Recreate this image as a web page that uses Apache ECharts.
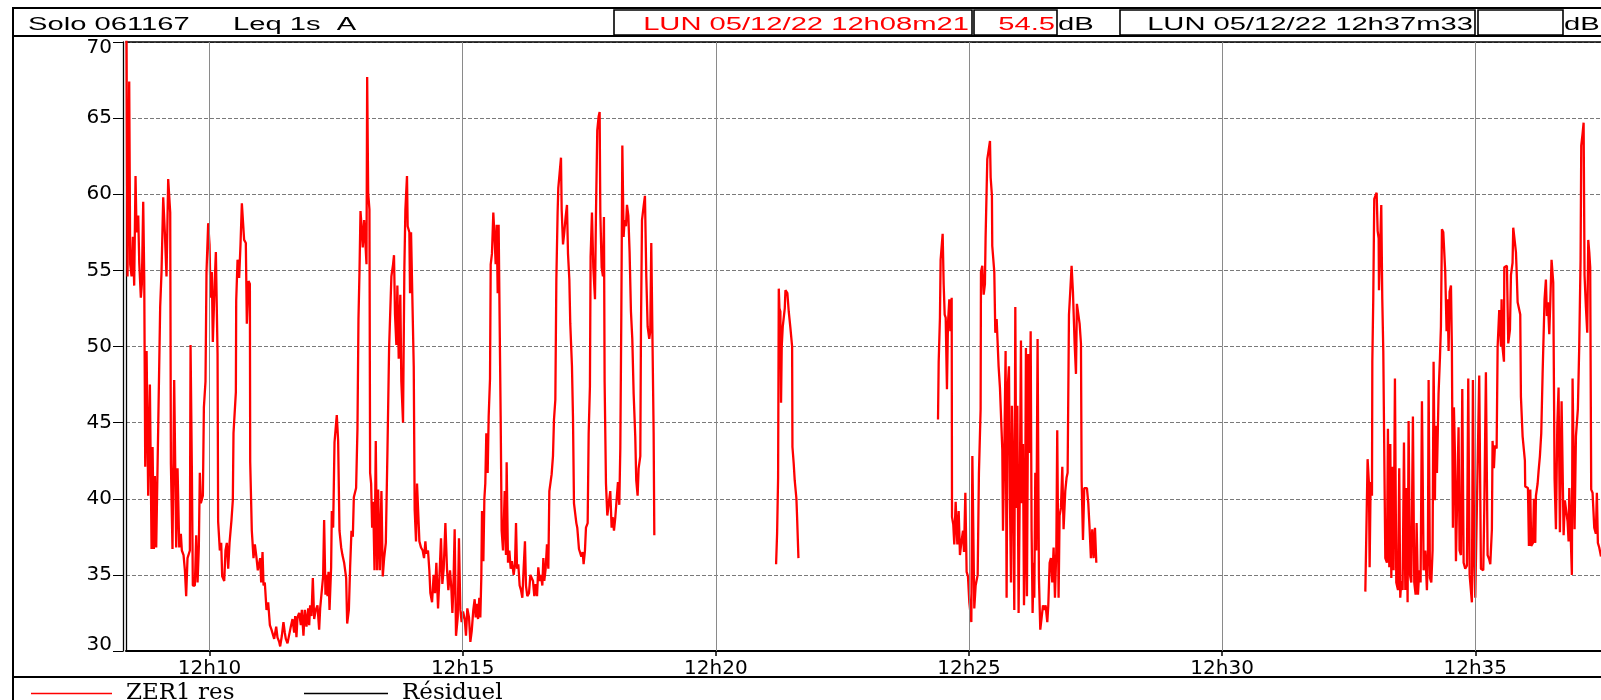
<!DOCTYPE html>
<html>
<head>
<meta charset="utf-8">
<script src="https://cdn.jsdelivr.net/npm/echarts@6.0.0/dist/echarts.min.js"></script>
<style>
html,body{margin:0;padding:0;background:#fff;}
#chart{width:1601px;height:700px;}
</style>
</head>
<body>
<div id="chart"></div>
<script>
// Time in seconds after 12:00:00, level in dB(A)
const run1 = [[501.5,71],[502.8,54.6],[504.8,67.4],[506.0,55.4],[507.6,54.6],[509.2,57.2],[510.7,54.0],[512.3,61.2],[513.5,57.5],[515.5,58.6],[516.7,55.5],[518.6,53.2],[519.8,54.1],[521.4,59.5],[522.6,54.6],[523.8,42.1],[525.4,49.7],[527.3,40.2],[529.3,47.5],[531.3,36.7],[532.5,43.4],[534.0,36.7],[535.2,41.5],[536.8,36.8],[539.2,44.8],[541.5,52.6],[543.1,54.9],[545.1,59.8],[547.1,57.4],[549.0,54.6],[551.0,61.0],[553.4,58.8],[554.2,42.3],[556.1,36.7],[558.1,47.8],[560.5,36.8],[562.1,42.0],[564.1,36.8],[566.0,37.7],[567.2,36.6],[569.2,36.3],[570.8,35.3],[572.3,33.6],[573.9,36.1],[576.7,36.6],[577.5,50.1],[579.1,41.7],[580.2,34.3],[582.6,34.3],[584.2,37.6],[585.8,34.5],[587.3,36.8],[588.5,41.7],[589.7,39.7],[592.1,40.2],[593.3,46.0],[595.2,47.7],[596.4,54.9],[598.4,58.1],[600.0,56.7],[601.2,53.2],[602.7,54.9],[603.9,50.3],[605.9,53.9],[607.5,56.2],[609.5,49.5],[610.2,38.5],[612.2,36.6],[613.8,37.1],[615.0,34.9],[617.4,34.6],[618.9,36.6],[620.5,37.1],[622.1,35.4],[623.7,37.1],[626.0,38.6],[627.6,39.9],[628.4,44.3],[631.2,47.0],[631.6,53.0],[633.2,55.7],[635.1,54.5],[636.7,56.7],[638.3,59.4],[639.9,59.3],[641.0,57.0],[643.0,56.8],[644.2,51.5],[646.2,54.3],[647.8,54.1],[648.2,42.4],[650.1,37.9],[652.1,36.1],[653.7,37.0],[655.7,36.1],[657.2,35.3],[658.8,35.4],[660.0,36.1],[661.2,34.5],[662.8,36.5],[664.0,34.3],[665.5,34.5],[667.5,32.7],[669.5,33.2],[671.5,31.7],[673.4,31.4],[675.0,31.3],[676.6,30.8],[679.0,31.6],[680.5,30.9],[682.5,30.6],[683.7,30.3],[685.7,31.0],[687.6,31.9],[689.2,31.2],[690.4,30.8],[692.4,30.5],[694.4,30.5],[696.3,31.6],[698.3,32.1],[700.3,31.2],[701.5,32.3],[703.0,30.9],[704.2,32.2],[706.2,32.5],[708.2,31.7],[709.4,32.7],[711.3,31.0],[712.9,32.7],[714.9,31.6],[716.9,32.8],[718.1,31.7],[719.2,33.0],[720.8,32.3],[722.4,34.8],[724.0,32.1],[725.9,32.7],[727.9,33.0],[729.9,31.4],[731.1,32.8],[733.1,32.8],[734.6,34.9],[735.8,38.6],[737.4,33.7],[739.0,35.0],[739.8,33.6],[741.0,35.2],[742.2,32.7],[744.1,35.5],[744.9,39.2],[746.5,38.1],[748.1,43.7],[749.6,43.8],[750.8,45.5],[752.4,43.8],[754.0,37.9],[756.0,36.8],[757.5,36.3],[759.5,35.8],[761.9,34.8],[763.1,31.8],[765.1,32.7],[766.6,35.5],[768.2,37.9],[769.8,37.5],[771.0,40.1],[773.7,40.7],[775.3,44.6],[776.5,51.8],[777.7,54.9],[778.9,58.9],[780.0,58.0],[781.6,56.5],[783.2,58.3],[784.8,56.7],[786.0,55.4],[786.8,67.7],[788.0,60.1],[789.5,59.0],[790.3,41.7],[791.5,41.0],[792.7,38.1],[793.9,39.8],[795.5,35.3],[797.0,43.8],[798.6,35.3],[799.8,40.6],[801.8,35.3],[803.7,40.5],[805.3,34.9],[806.9,36.1],[808.9,37.1],[810.8,43.0],[812.8,49.9],[814.8,53.4],
[815.5,54.6],[817.5,55.4],[818.6,56.0],[819.8,52.1],[821.4,50.1],[822.6,54.0],[824.2,49.2],[826.1,53.4],[827.3,47.7],[829.3,45.0],[830.9,55.2],[832.1,59.0],[834.0,61.2],[834.8,57.9],[836.8,57.5],[837.6,53.5],[838.8,57.5],[840.8,57.4],[842.0,48.7],[843.1,39.3],[844.7,37.2],[845.9,41.0],[847.5,41.1],[848.7,37.2],[850.6,36.8],[852.6,36.6],[854.2,36.1],[855.8,37.2],[856.9,36.4],[858.9,36.6],[860.5,35.3],[861.7,33.8],[863.7,33.2],[865.6,35.0],[867.2,33.8],[868.8,35.8],[870.8,32.8],[872.7,35.2],[874.3,37.4],[875.9,34.4],[877.5,35.4],[879.5,38.4],[881.4,35.4],[883.0,34.0],[885.0,35.3],[886.6,34.1],[887.8,32.5],[888.9,34.0],[890.5,38.0],[892.1,31.0],[894.1,32.2],[895.6,37.4],[897.2,32.7],[898.8,31.9],[900.4,32.6],[902.4,32.1],[903.9,31.0],[905.5,32.8],[907.5,32.2],[909.1,30.6],[910.7,31.3],[912.6,32.7],[914.2,33.4],[915.4,32.2],[916.6,33.1],[918.2,32.1],[919.7,33.5],[920.9,32.2],[922.1,34.9],[922.9,39.2],[924.5,35.9],[925.7,40.0],[926.8,41.0],[928.0,44.3],[929.6,41.7],[930.8,45.4],[932.4,47.9],[933.2,55.4],[934.7,56.1],[936.3,58.8],[937.9,57.0],[939.1,55.4],[940.3,58.0],[941.5,53.5],[942.6,58.0],[944.2,58.0],[945.0,45.4],[946.2,37.9],[947.8,36.6],[949.8,40.5],[951.3,36.3],[952.1,42.4],[953.7,35.8],[955.3,36.6],[956.9,35.4],[958.4,35.9],[960.4,35.0],[962.0,35.7],[963.2,38.4],[964.4,35.4],[965.9,35.7],[967.5,34.3],[969.1,34.0],[970.7,33.5],[972.3,35.5],[973.8,37.2],[975.0,34.3],[976.6,33.6],[978.6,33.8],[980.2,35.0],[981.7,34.9],[983.3,34.6],[984.9,33.6],[986.5,34.4],[988.1,33.6],[989.6,35.5],[991.2,34.6],[992.8,35.0],[994.4,34.3],[995.6,36.1],[996.7,34.6],[998.3,35.4],[999.9,37.0],[1001.5,35.4],[1002.7,40.5],[1003.8,40.5],[1005.4,41.6],[1007.0,42.8],[1008.2,45.2],[1009.8,46.5],[1011.0,54.4],[1012.5,58.8],[1013.3,60.4],[1014.9,61.4],[1016.5,62.4],[1017.3,59.0],[1018.9,56.7],[1020.4,57.5],[1022.0,58.5],[1023.6,59.3],[1024.8,56.1],[1026.4,54.4],[1027.5,51.5],[1029.5,48.7],[1030.7,45.4],[1031.9,39.7],[1033.5,39.8],[1034.7,38.4],[1035.8,38.1],[1037.8,36.7],[1039.4,36.6],[1040.6,36.2],[1042.2,36.5],[1043.3,35.7],[1044.9,36.6],[1046.1,38.1],[1048.1,38.4],[1049.3,44.3],[1050.8,47.4],[1051.6,55.9],[1053.2,58.8],[1054.8,55.2],[1056.8,53.1],[1057.9,58.5],[1059.5,64.2],[1061.1,65.1],[1062.3,65.4],[1063.1,58.8],[1064.7,55.2],[1066.2,54.6],[1067.4,58.5],[1068.2,47.7],[1069.8,41.0],[1071.4,38.9],[1073.4,38.8],[1074.9,40.5],[1076.5,38.1],[1077.7,38.8],[1079.3,37.9],[1080.9,38.8],[1082.8,38.9],[1084.0,41.1],[1085.6,39.6],[1086.8,43.3],[1088.0,52.1],[1089.2,63.2],[1090.7,57.2],[1091.9,58.3],[1093.5,57.9],[1094.7,59.3],[1096.3,58.6],[1097.8,56.2],[1099.4,52.3],[1101.0,50.5],[1102.6,46.9],[1104.5,44.1],[1105.7,41.2],[1107.3,40.2],[1108.5,42.0],[1110.5,42.8],[1111.3,51.3],[1112.5,58.3],[1114.4,59.2],[1116.0,59.9],[1117.6,54.6],[1119.2,51.3],[1121.1,50.5],[1122.3,51.0],[1123.5,56.8],[1124.7,56.7],[1126.3,44.3],[1127.1,37.6]];

const run2 = [[1271.4,35.7],[1272.6,37.7],[1273.8,41.4],[1274.6,53.8],[1275.4,52.5],[1276.5,52.3],[1277.3,46.3],[1278.1,50.0],[1279.3,51.3],[1280.5,51.9],[1281.7,52.5],[1282.5,53.7],[1283.6,53.6],[1284.8,53.5],[1286.4,52.3],[1288.4,51.2],[1290.4,50.0],[1290.8,43.4],[1292.3,42.3],[1293.5,41.2],[1295.5,40.0],[1296.3,38.8],[1297.9,36.1]];

const run3 = [[1463.3,45.2],[1464.1,49.0],[1465.6,51.9],[1466.4,55.7],[1468.8,57.4],[1470.0,54.1],[1471.2,52.1],[1472.4,51.9],[1473.9,47.2],[1475.1,51.5],[1476.7,53.1],[1477.9,51.0],[1479.5,53.2],[1479.9,38.8],[1481.4,38.3],[1482.6,37.0],[1484.2,39.8],[1486.2,37.0],[1487.8,39.2],[1489.3,36.3],[1490.9,37.1],[1492.9,37.9],[1494.1,36.5],[1495.7,40.4],[1497.2,35.2],[1498.8,34.9],[1500.4,33.2],[1502.8,31.9],[1504.0,42.8],[1505.1,38.1],[1506.3,32.8],[1507.9,34.3],[1510.3,35.0],[1511.8,41.7],[1513.8,45.9],[1514.2,54.9],[1515.8,55.3],[1517.4,53.4],[1518.9,54.1],[1519.7,57.2],[1521.7,62.3],[1523.3,62.9],[1524.9,63.5],[1525.7,61.1],[1527.2,59.9],[1527.6,56.6],[1530.0,54.9],[1531.2,50.9],[1532.8,51.8],[1534.4,51.8],[1535.1,48.7],[1536.7,47.3],[1538.3,47.2],[1539.5,43.2],[1540.3,37.9],[1541.9,43.3],[1543.4,49.7],[1544.6,33.5],[1545.8,47.2],[1547.4,48.7],[1548.6,39.7],[1549.8,34.5],[1550.9,46.1],[1552.1,42.3],[1553.7,32.7],[1554.9,52.6],[1556.1,39.4],[1557.3,46.1],[1558.8,32.5],[1560.4,41.7],[1561.6,50.4],[1562.8,39.7],[1564.0,43.6],[1565.2,33.0],[1566.3,36.6],[1567.5,49.9],[1568.7,33.6],[1570.3,49.5],[1571.5,43.0],[1573.1,51.0],[1574.2,37.9],[1575.4,32.5],[1576.6,35.8],[1577.4,33.5],[1578.6,41.7],[1579.8,36.6],[1581.3,50.5],[1582.9,34.8],[1584.5,31.4],[1586.1,32.2],[1587.7,33.0],[1589.2,32.7],[1590.8,33.0],[1592.8,31.9],[1594.0,33.0],[1595.6,35.8],[1597.1,36.1],[1598.7,34.5],[1600.3,36.8],[1601.9,33.5],[1603.5,36.6],[1604.6,44.5],[1606.2,33.5],[1607.4,38.9],[1609.0,39.4],[1610.6,42.1],[1612.1,38.0],[1614.1,40.5],[1615.7,41.4],[1616.9,41.7],[1618.5,52.1],[1620.0,53.6],[1621.6,55.3],[1623.2,53.6],[1625.2,50.2],[1626.8,48.2],[1627.9,52.8],[1629.5,52.8],[1631.1,51.5],[1632.7,50.2],[1633.5,41.2],[1635.1,37.3],[1636.6,40.7],[1638.2,40.6],[1639.8,40.7],[1641.4,39.7],[1642.9,38.1],[1644.5,36.1],[1646.1,38.0],[1647.7,36.1],[1649.3,38.1],[1650.9,35.8]];

const run4 = [[1969.7,33.9],[1971.2,34.0],[1972.4,42.6],[1974.0,41.0],[1974.8,35.5],[1976.0,41.1],[1977.6,40.2],[1978.0,49.0],[1979.1,53.1],[1980.3,59.7],[1981.9,59.8],[1983.1,60.1],[1984.3,57.6],[1985.5,57.1],[1985.9,53.7],[1987.4,53.6],[1988.6,59.3],[1989.8,53.1],[1991.0,49.7],[1992.2,42.8],[1993.4,36.1],[1995.3,35.8],[1996.5,44.6],[1998.1,35.5],[1999.3,43.6],[2000.5,34.8],[2001.7,42.1],[2003.2,35.3],[2004.8,47.9],[2006.4,34.5],[2008.4,34.0],[2009.9,42.0],[2011.1,33.5],[2012.3,34.6],[2013.9,34.0],[2015.5,43.7],[2017.1,34.0],[2018.6,40.7],[2019.8,33.2],[2021.0,45.1],[2022.6,35.0],[2024.2,34.5],[2026.1,45.4],[2027.7,34.5],[2029.3,33.7],[2030.5,38.4],[2032.1,33.7],[2033.6,35.3],[2035.2,34.5],[2036.8,46.4],[2038.8,35.3],[2040.8,36.6],[2042.7,34.0],[2043.9,36.6],[2044.7,47.8],[2046.3,34.8],[2047.9,34.5],[2049.4,36.6],[2050.6,49.0],[2052.2,39.9],[2053.0,44.8],[2054.6,41.7],[2055.8,41.7],[2056.5,46.9],[2058.1,49.2],[2059.3,51.3],[2060.5,57.7],[2062.1,57.5],[2063.3,57.6],[2064.4,54.9],[2066.0,51.0],[2067.2,53.1],[2068.4,49.7],[2069.6,53.6],[2071.2,54.0],[2072.3,49.9],[2073.5,38.1],[2074.7,46.0],[2075.9,43.0],[2077.1,35.9],[2079.1,35.9],[2080.2,44.7],[2081.4,36.6],[2083.0,36.3],[2084.6,47.2],[2086.2,35.8],[2088.1,35.4],[2090.1,35.6],[2091.7,47.9],[2093.3,35.0],[2094.8,34.0],[2096.0,33.2],[2097.2,47.8],[2098.8,35.8],[2100.0,33.5],
[2104.7,48.1],[2106.7,35.4],[2109.5,35.3],[2110.7,39.4],[2112.6,48.3],[2114.6,36.3],[2116.6,36.0],[2117.8,35.7],[2119.7,38.0],[2120.5,43.8],[2122.1,42.0],[2123.3,43.5],[2125.3,43.3],[2126.5,50.0],[2128.4,52.4],[2130.4,50.0],[2131.2,53.1],[2132.4,49.9],[2134.0,49.0],[2134.4,55.2],[2136.3,55.3],[2137.5,55.3],[2139.1,50.2],[2141.1,51.1],[2142.3,54.7],[2144.2,55.5],[2145.0,57.8],[2147.0,56.8],[2148.2,56.2],[2149.0,55.0],[2150.2,52.9],[2152.1,52.9],[2153.3,52.1],[2154.1,46.7],[2156.1,44.1],[2158.8,42.5],[2159.2,40.8],[2161.2,40.7],[2162.4,40.7],[2163.6,36.9],[2165.2,40.6],[2166.3,36.9],[2168.3,37.1],[2169.5,40.0],[2171.1,37.1],[2171.9,40.2],[2173.9,41.0],[2175.0,41.8],[2176.6,42.8],[2178.2,44.3],[2179.8,48.2],[2182.1,53.1],[2183.7,54.4],[2184.9,52.0],[2186.1,52.9],[2187.7,50.8],[2188.9,52.9],[2190.4,55.7],[2192.4,54.2],[2194.0,41.3],[2195.6,38.0],[2197.2,44.8],[2198.7,47.3],[2200.3,37.8],[2202.3,46.4],[2203.5,46.5],[2204.7,37.6],[2206.2,39.9],[2208.2,39.8],[2209.4,38.5],[2210.6,37.2],[2211.4,40.7],[2213.3,40.7],[2214.5,35.0],[2215.3,47.9],[2217.7,38.0],[2219.3,44.1],[2221.6,45.9],[2223.2,50.0],[2224.8,55.7],[2225.6,63.2],[2227.2,64.0],[2228.4,64.7],[2229.5,54.7],[2231.1,52.6],[2232.7,50.9],[2233.9,57.0],[2235.1,56.2],[2236.2,55.2],[2237.4,40.6],[2239.0,40.4],[2241.0,38.1],[2242.9,37.7],[2244.1,40.4],[2245.3,37.1],[2246.9,36.8],[2249.0,36.2]];

const xTickSeconds = [600, 900, 1200, 1500, 1800, 2100];
const xTickLabels = ['12h10', '12h15', '12h20', '12h25', '12h30', '12h35'];
const yTicks = [30, 35, 40, 45, 50, 55, 60, 65, 70];
const startSec = 501, endSec = 2249;

const levelData = [].concat(run1, [[1200, null]], run2, [[1400, null]], run3, [[1800, null]], run4);

const chart = echarts.init(document.getElementById('chart'), null, {renderer: 'canvas'});
const sansAxis = 'DejaVu Sans';
const hdrFont = '18px "Liberation Sans", Arial, sans-serif';
const SX = 1.62;

function hText(x, txt, color, align) {
  return {type: 'text', x: x, y: 25.5, scaleX: SX, z: 10,
    style: {text: txt, font: hdrFont, fill: color, textAlign: align, textVerticalAlign: 'middle', align: align, verticalAlign: 'middle'}};
}
function box(x1, x2) {
  return {type: 'rect', z: 10, shape: {x: x1, y: 10, width: x2 - x1, height: 25},
    style: {fill: 'none', stroke: '#000', lineWidth: 1.6}};
}
const legendText = {fontFamily: 'DejaVu Serif', fontSize: 23, color: '#000', padding: [0, 0, 0, 9]};

chart.setOption({
  animation: false,
  backgroundColor: '#fff',
  grid: {left: 126, right: 0, top: 42, bottom: 49, containLabel: false},
  xAxis: [{
    type: 'value', min: startSec, max: endSec, position: 'bottom',
    axisLine: {show: true, onZero: false, lineStyle: {color: '#000', width: 2}},
    axisTick: {show: true, customValues: xTickSeconds, length: 5, lineStyle: {color: '#000', width: 1.5}},
    axisLabel: {show: true, customValues: xTickSeconds, margin: 8, color: '#000', fontFamily: sansAxis, fontSize: 20,
      formatter: function (v) { const i = xTickSeconds.indexOf(Math.round(v)); return i >= 0 ? xTickLabels[i] : ''; }},
    splitLine: {show: false}
  }, {
    type: 'value', min: startSec, max: endSec, position: 'top',
    axisLine: {show: true, onZero: false, lineStyle: {color: '#000', width: 1.5}},
    axisTick: {show: false}, axisLabel: {show: false}, splitLine: {show: false}
  }],
  yAxis: [{
    type: 'value', min: yTicks[0], max: yTicks[yTicks.length - 1], interval: 5, position: 'left',
    axisLine: {show: true, onZero: false, lineStyle: {color: '#000', width: 1.3}},
    axisTick: {show: false},
    axisLabel: {show: true, margin: 14, color: '#000', fontFamily: sansAxis, fontSize: 20, lineHeight: 12,
      verticalAlignMaxLabel: 'top', verticalAlignMinLabel: 'bottom'},
    splitLine: {show: true, lineStyle: {color: '#7a7a7a', width: 1, type: [4, 2]}}
  }, {
    type: 'value', min: yTicks[0], max: yTicks[yTicks.length - 1], interval: 5, position: 'left', offset: 3,
    axisLine: {show: true, onZero: false, lineStyle: {color: '#000', width: 1.3}},
    axisTick: {show: true, length: 10, lineStyle: {color: '#000', width: 1}},
    axisLabel: {show: false}, splitLine: {show: false}
  }],
  legend: [{
    data: ['ZER1 res'], left: 31, top: 682, padding: 0, icon: 'rect', itemWidth: 81, itemHeight: 1.5, selectedMode: false,
    textStyle: legendText
  }, {
    data: ['Résiduel'], left: 304, top: 682, padding: 0, icon: 'rect', itemWidth: 84, itemHeight: 1.5, selectedMode: false,
    textStyle: legendText
  }],
  series: [{
    name: 'Résiduel', type: 'line', data: [], z: 1, color: '#000', showSymbol: false,
    lineStyle: {color: '#000', width: 1.5},
    markLine: {
      silent: true, symbol: ['none', 'none'], animation: false,
      label: {show: false},
      lineStyle: {color: '#8a8a8a', width: 1, type: 'solid'},
      data: xTickSeconds.map(s => ({xAxis: s}))
    }
  }, {
    name: 'ZER1 res', type: 'line', data: levelData, z: 3, color: '#ff0000',
    showSymbol: false, connectNulls: false, sampling: null,
    lineStyle: {color: '#ff0000', width: 2.3}
  }],
  graphic: [
    {type: 'rect', z: 10, shape: {x: 13, y: 8, width: 1600, height: 28}, style: {fill: 'none', stroke: '#000', lineWidth: 2}},
    {type: 'line', z: 10, shape: {x1: 13, y1: 36, x2: 13, y2: 700}, style: {stroke: '#000', lineWidth: 2}},
    {type: 'line', z: 10, shape: {x1: 13, y1: 677, x2: 1601, y2: 677}, style: {stroke: '#000', lineWidth: 2}},
    box(614, 972), box(974, 1057), box(1120, 1475), box(1478, 1563),
    hText(28, 'Solo 061167', '#000', 'left'),
    hText(233, 'Leq 1s  A', '#000', 'left'),
    hText(969, 'LUN 05/12/22 12h08m21', '#ff0000', 'right'),
    hText(1055, '54.5', '#ff0000', 'right'),
    hText(1058, 'dB', '#000', 'left'),
    hText(1473, 'LUN 05/12/22 12h37m33', '#000', 'right'),
    hText(1564, 'dB', '#000', 'left')
  ]
});
</script>
</body>
</html>
